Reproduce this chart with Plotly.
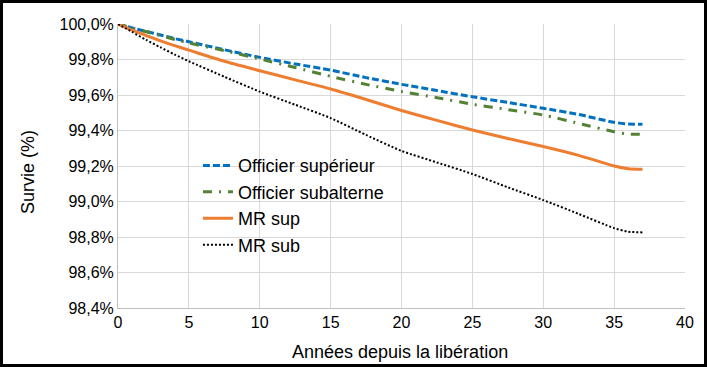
import plotly.graph_objects as go

years = [0, 1, 2, 3, 4, 5, 7.5, 10, 12.5, 15, 17.5, 20, 22.5, 25, 27.5, 30, 32.5, 35, 36, 37]
officier_sup = [100, 99.978, 99.958, 99.938, 99.918, 99.9, 99.855, 99.812, 99.775, 99.74, 99.698, 99.66, 99.625,
                99.59, 99.558, 99.525, 99.49, 99.446, 99.437, 99.435]
officier_sub = [100, 99.977, 99.956, 99.935, 99.913, 99.893, 99.85, 99.803, 99.755, 99.705, 99.66, 99.62, 99.585,
                99.548, 99.518, 99.487, 99.44, 99.393, 99.38, 99.378]
mr_sup = [100, 99.965, 99.935, 99.905, 99.878, 99.853, 99.79, 99.737, 99.685, 99.634, 99.575, 99.513, 99.457,
          99.403, 99.355, 99.31, 99.26, 99.2, 99.185, 99.181]
mr_sub = [100, 99.955, 99.91, 99.868, 99.828, 99.79, 99.703, 99.619, 99.545, 99.47, 99.375, 99.285, 99.22,
          99.155, 99.08, 99.008, 98.93, 98.85, 98.83, 98.826]

names = ["Officier supérieur", "Officier subalterne", "MR sup", "MR sub"]
series = [officier_sup, officier_sub, mr_sup, mr_sub]
colors = ["#0070c0", "#548235", "#ed7d31", "#000000"]
dashes = ["7px,3px", "9px,7px,2px,7px", "solid", "2px,2px"]
widths = [3, 3, 3, 2]

x_title = "Années depuis la libération"
y_title = "Survie (%)"

W, H = 707, 367
L, R, T, B = 118, 22, 24, 59
pw, ph = W - L - R, H - T - B

fig = go.Figure()
for n, s, c, d, w in zip(names, series, colors, dashes, widths):
    fig.add_trace(go.Scatter(x=years, y=s, name=n, mode="lines",
                             line=dict(color=c, dash=d, width=w, shape="spline", smoothing=0.6)))

fig.add_shape(type="rect", xref="paper", yref="paper",
              x0=(-L + 1.5) / pw, x1=1 + (R - 1.5) / pw,
              y0=-(B - 1.5) / ph, y1=1 + (T - 1.5) / ph,
              line=dict(color="black", width=3), layer="above")

fig.add_annotation(text=x_title, xref="paper", yref="paper", x=(400 - L) / pw, y=-(352 - 308) / ph,
                   xanchor="center", yanchor="middle", showarrow=False, font=dict(size=18))
fig.add_annotation(text=y_title, xref="paper", yref="paper", x=-(L - 28) / pw, y=1 - (172 - T) / ph,
                   xanchor="center", yanchor="middle", showarrow=False, textangle=-90, font=dict(size=18))

fig.update_layout(
    width=W, height=H,
    margin=dict(l=L, r=R, t=T, b=B, autoexpand=False),
    paper_bgcolor="white", plot_bgcolor="white",
    separators=", ",
    font=dict(family="Liberation Sans, Arial, sans-serif", size=16, color="black"),
    showlegend=True,
    legend=dict(x=0.141, y=0.566, xanchor="left", yanchor="top", bgcolor="rgba(0,0,0,0)",
                font=dict(size=18), itemwidth=30, tracegroupgap=0),
    xaxis=dict(range=[0, 40], dtick=5, tick0=0, showgrid=True, gridcolor="#d9d9d9",
               showline=True, linecolor="#bfbfbf", linewidth=1, zeroline=False, automargin=False,
               ticks="", tickfont=dict(size=16)),
    yaxis=dict(range=[98.4, 100], dtick=0.2, tick0=98.4, showgrid=True, gridcolor="#d9d9d9",
               showline=True, linecolor="#bfbfbf", linewidth=1, zeroline=False, automargin=False,
               tickformat=".1f", ticksuffix="%", ticks="", tickfont=dict(size=16)),
)

fig.write_html("out.html", config={"displayModeBar": False},
               post_script="document.body.style.margin='0';document.body.style.overflow='hidden';")
